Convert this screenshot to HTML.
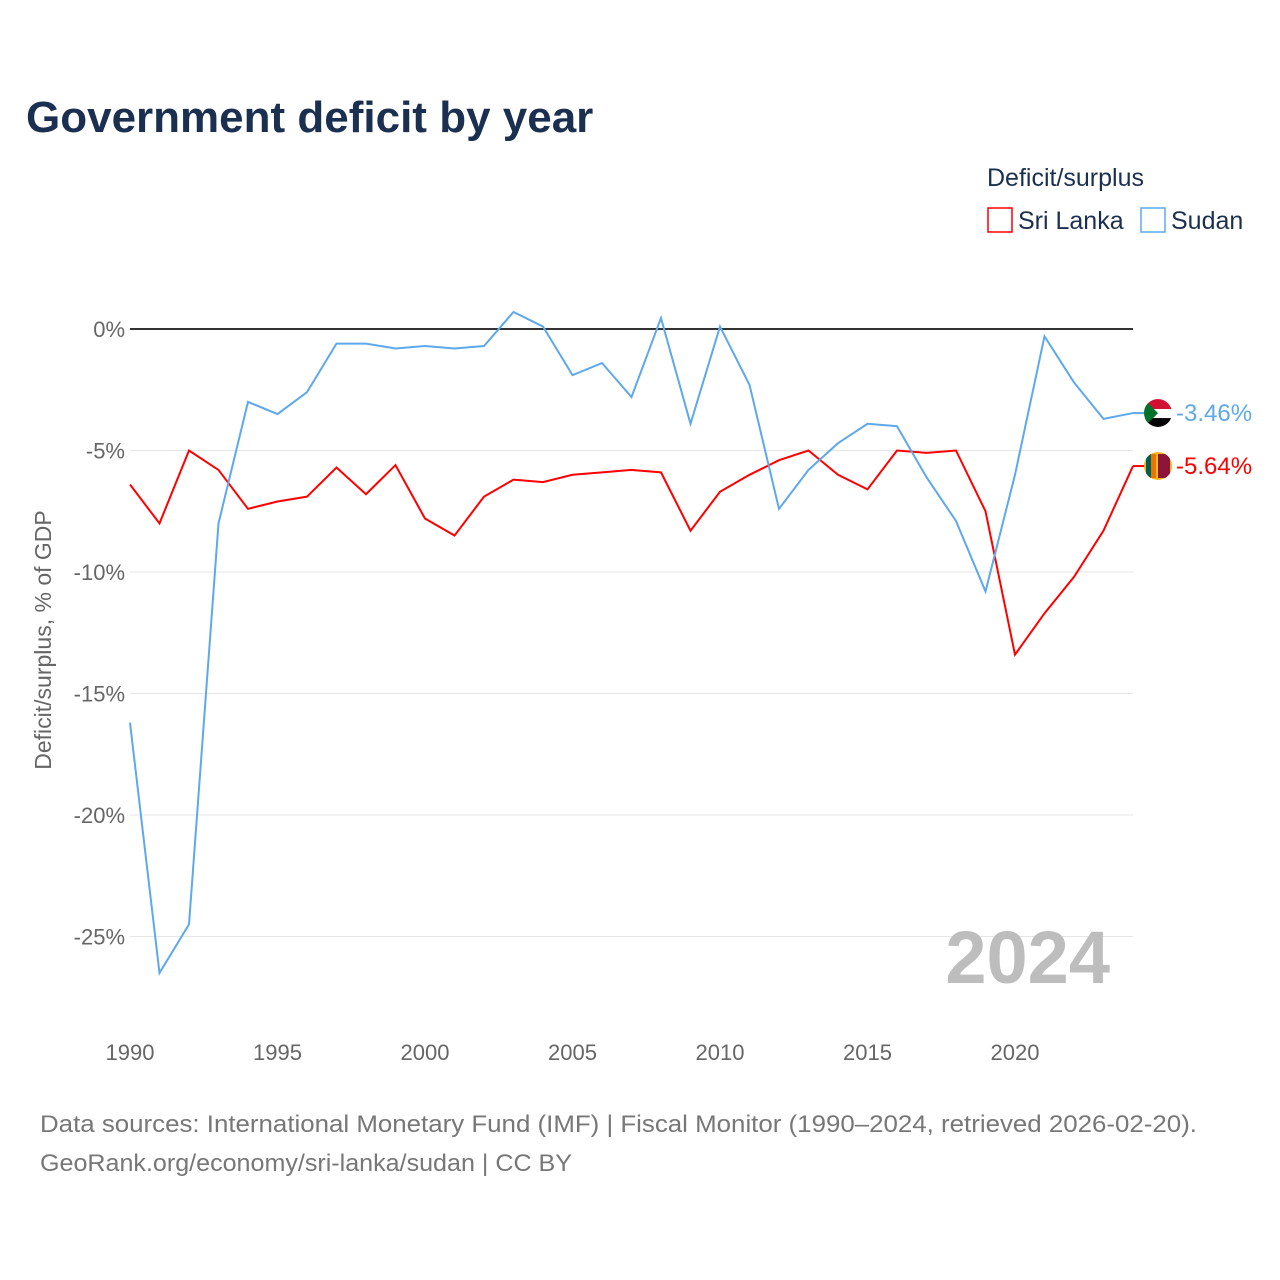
<!DOCTYPE html>
<html><head><meta charset="utf-8">
<style>
body{margin:0;background:#fff;font-family:"Liberation Sans",sans-serif;}
#wrap{position:relative;width:1280px;height:1280px;overflow:hidden;}
</style></head>
<body>
<div id="wrap">
<svg id="chart" width="1280" height="1280">
<defs>
<clipPath id="c1"><circle cx="1158" cy="413" r="14"/></clipPath>
<clipPath id="c2"><circle cx="1158" cy="466" r="14"/></clipPath>
</defs>
<text x="26" y="132" font-size="44" font-weight="bold" fill="#1b3050">Government deficit by year</text>
<text x="987" y="186" font-size="25" fill="#1b3050">Deficit/surplus</text>
<g><rect x="988" y="208" width="24" height="24" fill="none" stroke="#ff0000" stroke-width="1.5"/><text x="1018" y="229" font-size="25" fill="#1b3050">Sri Lanka</text></g>
<g><rect x="1141" y="208" width="24" height="24" fill="none" stroke="#5ea8ec" stroke-width="1.5"/><text x="1171" y="229" font-size="25" fill="#1b3050">Sudan</text></g>
<g id="grid"></g>
<text x="1110" y="983" font-size="74" font-weight="bold" fill="#bdbdbd" text-anchor="end">2024</text>
<g id="series"></g>
<text transform="translate(51,640) rotate(-90)" font-size="23" fill="#666" text-anchor="middle">Deficit/surplus, % of GDP</text>
<text x="40" y="1132" font-size="24" fill="#777" textLength="1157" lengthAdjust="spacingAndGlyphs">Data sources: International Monetary Fund (IMF) | Fiscal Monitor (1990–2024, retrieved 2026-02-20).</text>
<text x="40" y="1171" font-size="24" fill="#777" textLength="532" lengthAdjust="spacingAndGlyphs">GeoRank.org/economy/sri-lanka/sudan | CC BY</text>
</svg>
</div>
<script>
const years=[];for(let y=1990;y<=2024;y++)years.push(y);
const sriLanka=[-6.4,-8.0,-5.0,-5.8,-7.4,-7.1,-6.9,-5.7,-6.8,-5.6,-7.8,-8.5,-6.9,-6.2,-6.3,-6.0,-5.9,-5.8,-5.9,-8.3,-6.7,-6.0,-5.4,-5.0,-6.0,-6.6,-5.0,-5.1,-5.0,-7.5,-13.4,-11.7,-10.2,-8.3,-5.64];
const sudan=[-16.2,-26.5,-24.5,-8.0,-3.0,-3.5,-2.6,-0.6,-0.6,-0.8,-0.7,-0.8,-0.7,0.7,0.1,-1.9,-1.4,-2.8,0.45,-3.9,0.1,-2.3,-7.4,-5.8,-4.7,-3.9,-4.0,-6.1,-7.9,-10.8,-6.0,-0.3,-2.2,-3.7,-3.46];
const yTicks=[0,-5,-10,-15,-20,-25];
const xTicks=[1990,1995,2000,2005,2010,2015,2020];
const NS='http://www.w3.org/2000/svg';
const xs=y=>130+(y-1990)*(1133-130)/34;
const ys=v=>329-v*24.3;
const grid=document.getElementById('grid'),ser=document.getElementById('series');
function mk(tag,attrs,parent){const e=document.createElementNS(NS,tag);for(const k in attrs)e.setAttribute(k,attrs[k]);parent.appendChild(e);return e;}
yTicks.forEach(t=>{
  const l=mk('line',{x1:130,x2:1133,y1:ys(t),y2:ys(t),stroke:t===0?'#333':'#e6e6e6','stroke-width':t===0?2:1},grid);
  
  
  const tx=mk('text',{x:125,y:ys(t)+8,'font-size':22,fill:'#666','text-anchor':'end'},grid);
  tx.textContent=t+'%';
  
  
});
xTicks.forEach(t=>{
  const tx=mk('text',{x:xs(t),y:1060,'font-size':22,fill:'#666','text-anchor':'middle'},grid);
  tx.textContent=t;
  
  
});
function line(data,color,name,clip,flag){
  const p=mk('polyline',{points:data.map((v,i)=>xs(years[i])+','+ys(v)).join(' '),fill:'none',stroke:color,'stroke-width':2},ser);
  
  
  const last=data[data.length-1],lx=xs(years[years.length-1]),cx=lx+25,cy=ys(last);
  mk('line',{x1:lx,x2:cx-14,y1:cy,y2:cy,stroke:color,'stroke-width':2},ser);
  const g=mk('g',{'clip-path':'url(#'+clip+')'},ser);
  
  
  flag(g,cx,cy);
  const tx=mk('text',{x:cx+18,y:cy+8,'font-size':24,fill:color},ser);
  tx.textContent=last.toFixed(2)+'%';
  
  
}
line(sriLanka,'#ff0000','sri-lanka','c2',(g,cx,cy)=>{
  mk('rect',{x:cx-14,y:cy-14,width:28,height:28,fill:'#f7b718'},g);
  mk('rect',{x:cx-12,y:cy-12,width:5,height:24,fill:'#005f56'},g);
  mk('rect',{x:cx-7,y:cy-12,width:5,height:24,fill:'#eb7400'},g);
  mk('rect',{x:cx,y:cy-12,width:12,height:24,fill:'#8d153a'},g);
});
line(sudan,'#5ea8ec','sudan','c1',(g,cx,cy)=>{
  mk('rect',{x:cx-14,y:cy-14,width:28,height:10,fill:'#d21034'},g);
  mk('rect',{x:cx-14,y:cy-4,width:28,height:9,fill:'#fff'},g);
  mk('rect',{x:cx-14,y:cy+5,width:28,height:10,fill:'#000'},g);
  mk('polygon',{points:(cx-14)+','+(cy-14)+' '+(cx)+','+cy+' '+(cx-14)+','+(cy+14),fill:'#007229'},g);
});
</script>
</body></html>
